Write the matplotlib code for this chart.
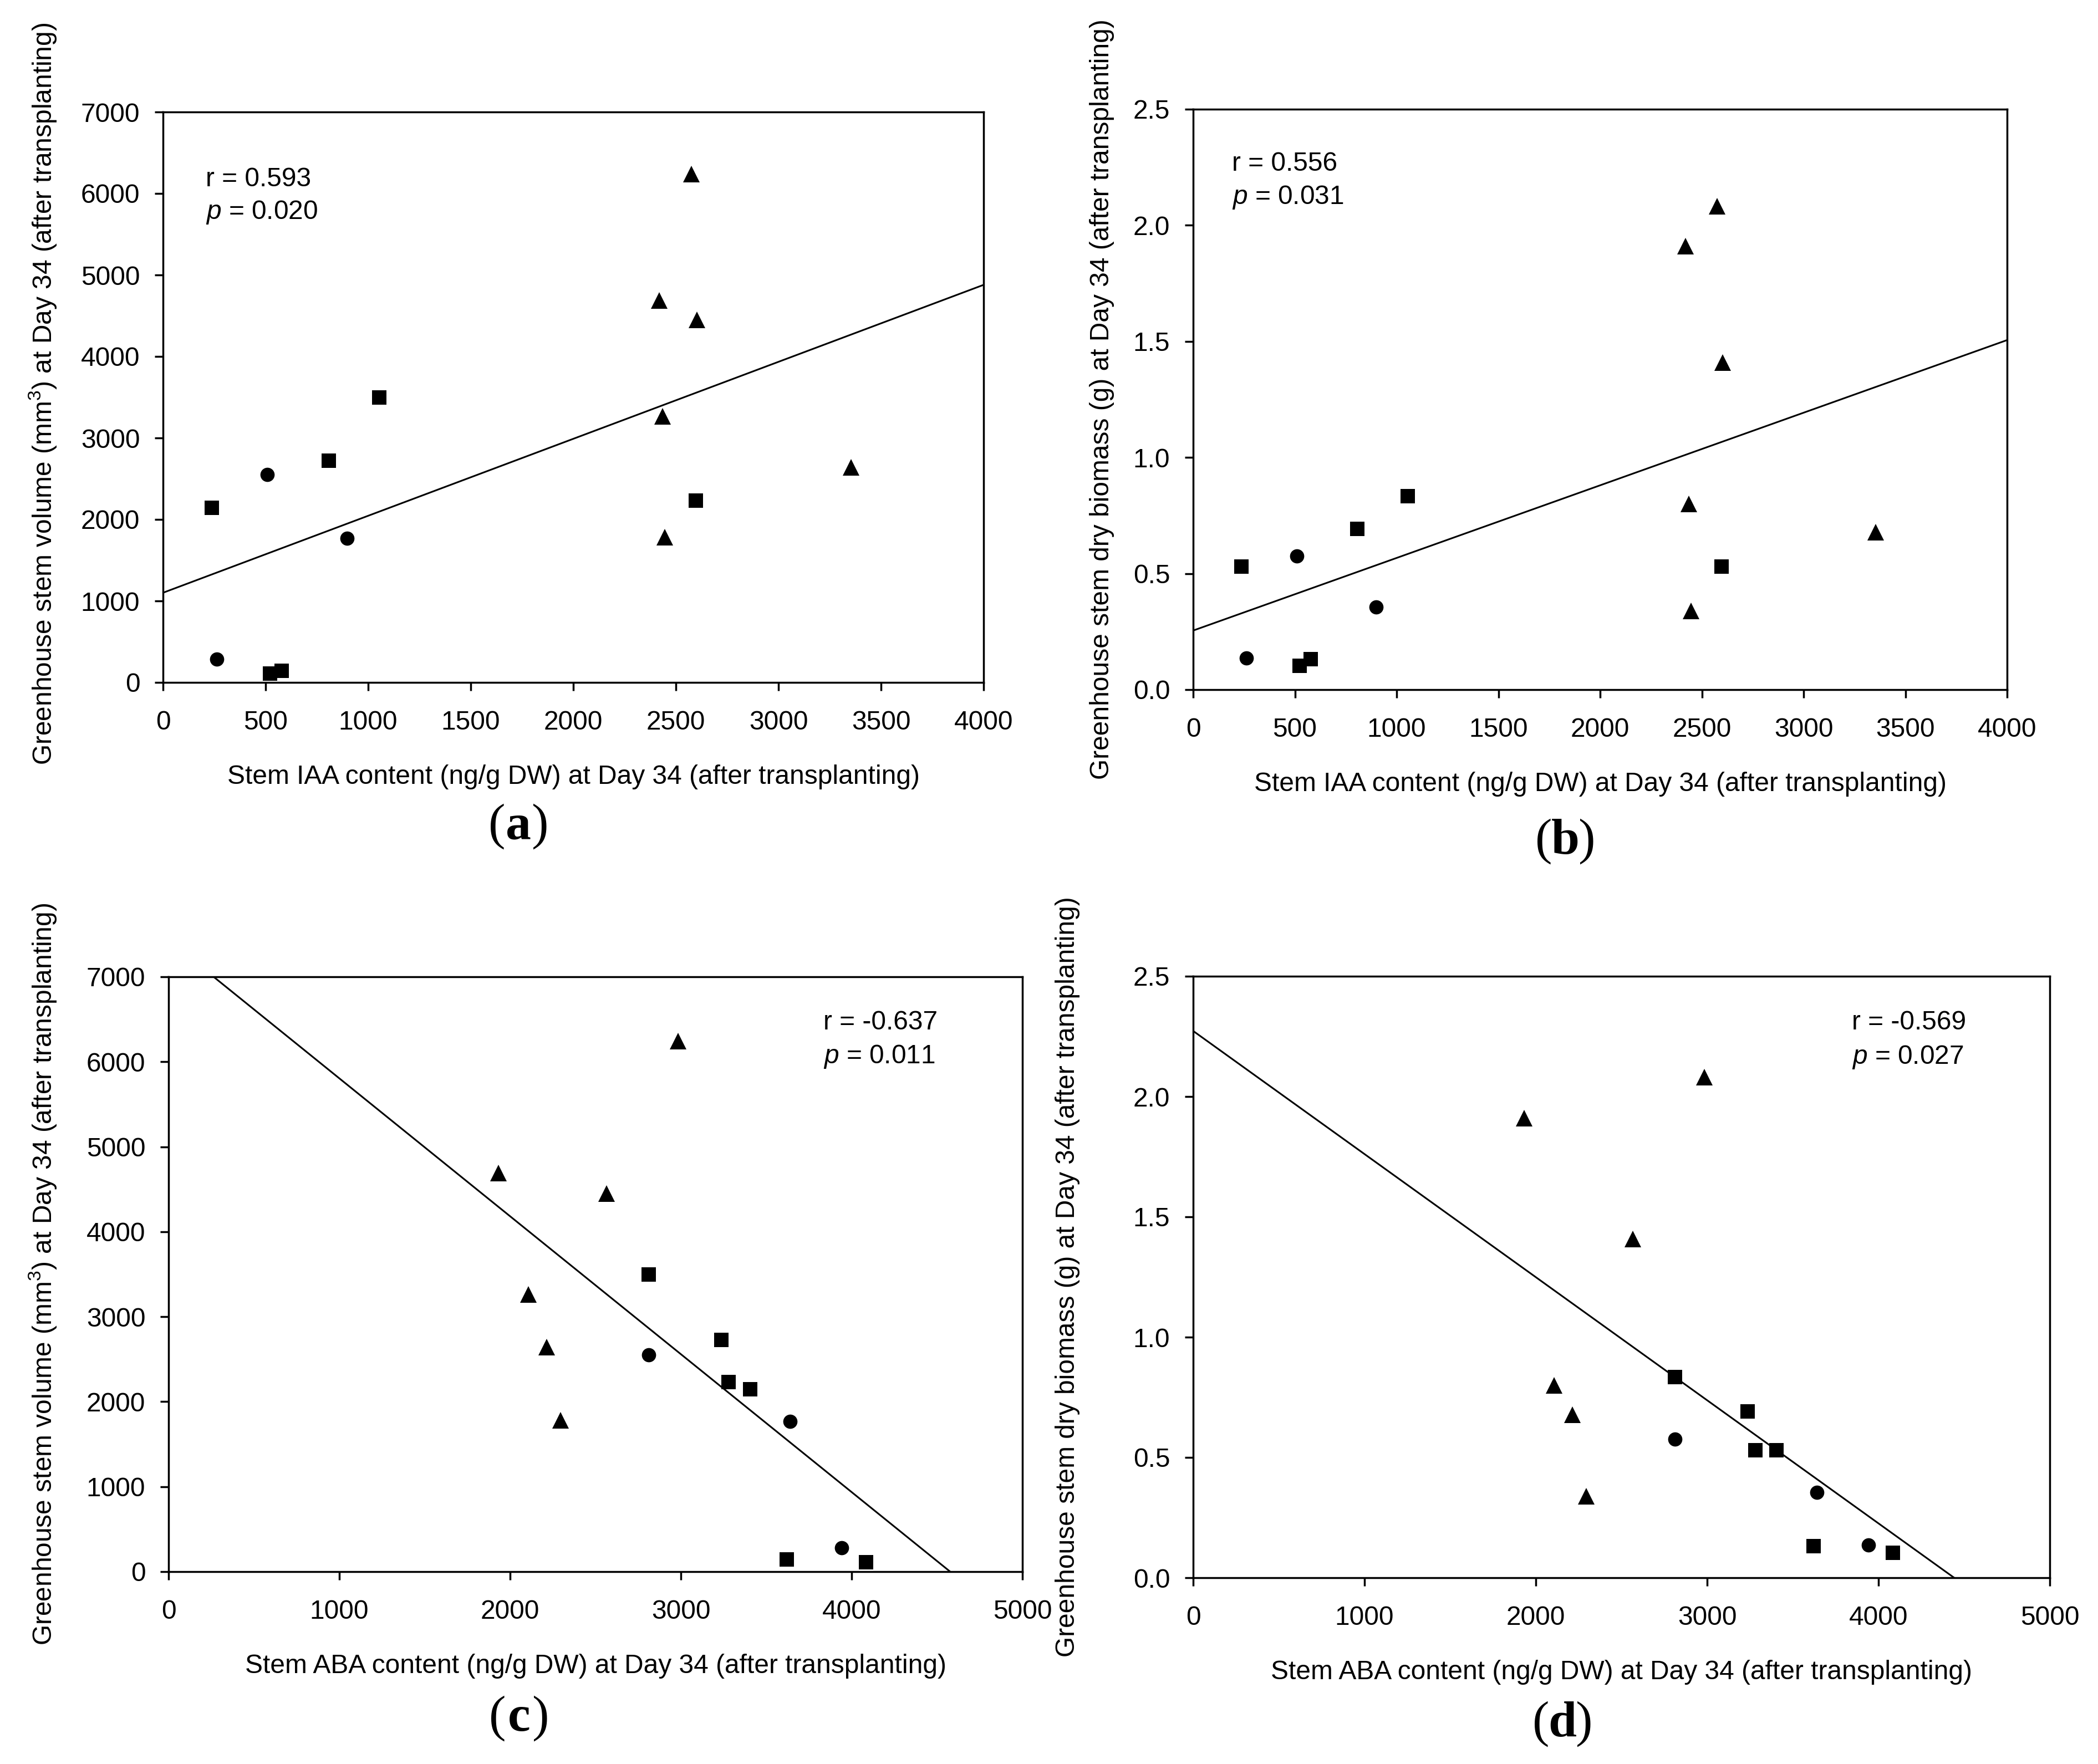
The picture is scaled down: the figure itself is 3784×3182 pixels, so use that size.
import numpy as np
import matplotlib.pyplot as plt

plt.rcParams['font.family'] = ['Liberation Sans', 'DejaVu Sans']
plt.rcParams['mathtext.fontset'] = 'custom'
plt.rcParams['mathtext.rm'] = 'Liberation Sans'
plt.rcParams['mathtext.it'] = 'Liberation Sans:italic'

# data, one entry per plant line (same 15 points in every panel)
group = ['tri'] * 6 + ['sq'] * 6 + ['circ'] * 3
iaa = [2576, 2420, 2602, 2436, 3353, 2446, 1055, 807, 2596, 238, 578, 522, 509, 898, 261]
aba = [2983, 1931, 2565, 2107, 2213, 2295, 2811, 3237, 3280, 3405, 3620, 4085, 2811, 3640, 3941]
volume = [6241, 4690, 4448, 3262, 2641, 1779, 3497, 2724, 2228, 2145, 145, 110, 2552, 1766, 283]
biomass = [2.081, 1.911, 1.408, 0.800, 0.678, 0.339, 0.833, 0.692, 0.531, 0.531,
           0.131, 0.103, 0.575, 0.355, 0.136]

r_text = ['r = 0.593', 'r = 0.556', 'r = -0.637', 'r = -0.569']
p_text = ['0.020', '0.031', '0.011', '0.027']
panel_letters = ['a', 'b', 'c', 'd']

xlab_iaa = 'Stem IAA content (ng/g DW) at Day 34 (after transplanting)'
xlab_aba = 'Stem ABA content (ng/g DW) at Day 34 (after transplanting)'
ylab_vol = 'Greenhouse stem volume (mm$^{3}$) at Day 34 (after transplanting)'
ylab_bio = 'Greenhouse stem dry biomass (g) at Day 34 (after transplanting)'

W, H = 3784, 3182
fig = plt.figure(figsize=(W / 100, H / 100), dpi=100)
FS = 34.5

# panel layout in pixels: left, top, right, bottom
boxes = [(294, 202, 1774, 1231), (2152, 197, 3620, 1244),
         (304, 1762, 1844, 2835), (2152, 1761, 3697, 2846)]
# text anchors in pixels: r x, r baseline, p baseline
rp_pos = [(371, 336, 395), (2222, 308, 368), (1485, 1857, 1918), (3340, 1857, 1919)]
ylab_pos = [(77, 710), (1988, 720), (77, 2298), (1925, 2303)]
letter_pos = [(935, 1491), (2823, 1518), (936, 3100), (2818, 3110)]

panels = [
    (iaa, volume, (0, 4000), np.arange(0, 4001, 500), (0, 7000), np.arange(0, 7001, 1000), xlab_iaa, ylab_vol, '%d'),
    (iaa, biomass, (0, 4000), np.arange(0, 4001, 500), (0, 2.5), np.arange(0, 2.51, 0.5), xlab_iaa, ylab_bio, '%.1f'),
    (aba, volume, (0, 5000), np.arange(0, 5001, 1000), (0, 7000), np.arange(0, 7001, 1000), xlab_aba, ylab_vol, '%d'),
    (aba, biomass, (0, 5000), np.arange(0, 5001, 1000), (0, 2.5), np.arange(0, 2.51, 0.5), xlab_aba, ylab_bio, '%.1f'),
]

markers = {'tri': ('^', 21), 'sq': ('s', 18.5), 'circ': ('o', 18.5)}

for i, (xv, yv, xl, xt, yl, yt, xlab, ylab, fmt) in enumerate(panels):
    l, t, r, b = boxes[i]
    ax = fig.add_axes([l / W, 1 - b / H, (r - l) / W, (b - t) / H])
    xv = np.array(xv, dtype=float)
    yv = np.array(yv, dtype=float)
    g = np.array(group)

    for key, (m, ms) in markers.items():
        sel = g == key
        ax.plot(xv[sel], yv[sel], linestyle='none', marker=m, markersize=ms,
                color='black', markeredgewidth=0, clip_on=False, zorder=3)

    # least-squares line across the whole x range
    slope, icpt = np.polyfit(xv, yv, 1)
    xx = np.array(xl, dtype=float)
    ax.plot(xx, icpt + slope * xx, color='black', lw=2.2, zorder=2)

    ax.set_xlim(xl)
    ax.set_ylim(yl)
    ax.set_xticks(xt)
    ax.set_yticks(yt)
    ax.yaxis.set_major_formatter(plt.FormatStrFormatter(fmt))
    ax.tick_params(direction='out', length=11, width=2.5, labelsize=FS)
    ax.tick_params(axis='x', pad=25)
    ax.tick_params(axis='y', pad=19)
    for s in ax.spines.values():
        s.set_linewidth(2.5)
    ax.set_xlabel(xlab, fontsize=FS, labelpad=38)

    fig.text(ylab_pos[i][0] / W, 1 - ylab_pos[i][1] / H, ylab, rotation=90,
             ha='center', va='center', fontsize=FS)

    rx, rb, pb = rp_pos[i]
    fig.text(rx / W, 1 - rb / H, r_text[i], fontsize=FS, va='baseline')
    fig.text(rx / W, 1 - pb / H, '$\\mathit{p}$ = ' + p_text[i], fontsize=FS, va='baseline')

    # panel letter: regular parentheses around a bold letter
    lx, ly = letter_pos[i][0] / W, 1 - letter_pos[i][1] / H
    half = 24 / W
    fig.text(lx, ly, panel_letters[i], family='Liberation Serif', weight='bold',
             fontsize=66, ha='center', va='center')
    fig.text(lx - half, ly, '(', family='Liberation Serif', fontsize=66, ha='right', va='center')
    fig.text(lx + half, ly, ')', family='Liberation Serif', fontsize=66, ha='left', va='center')

fig.savefig('out.png', dpi=100, facecolor='white')
